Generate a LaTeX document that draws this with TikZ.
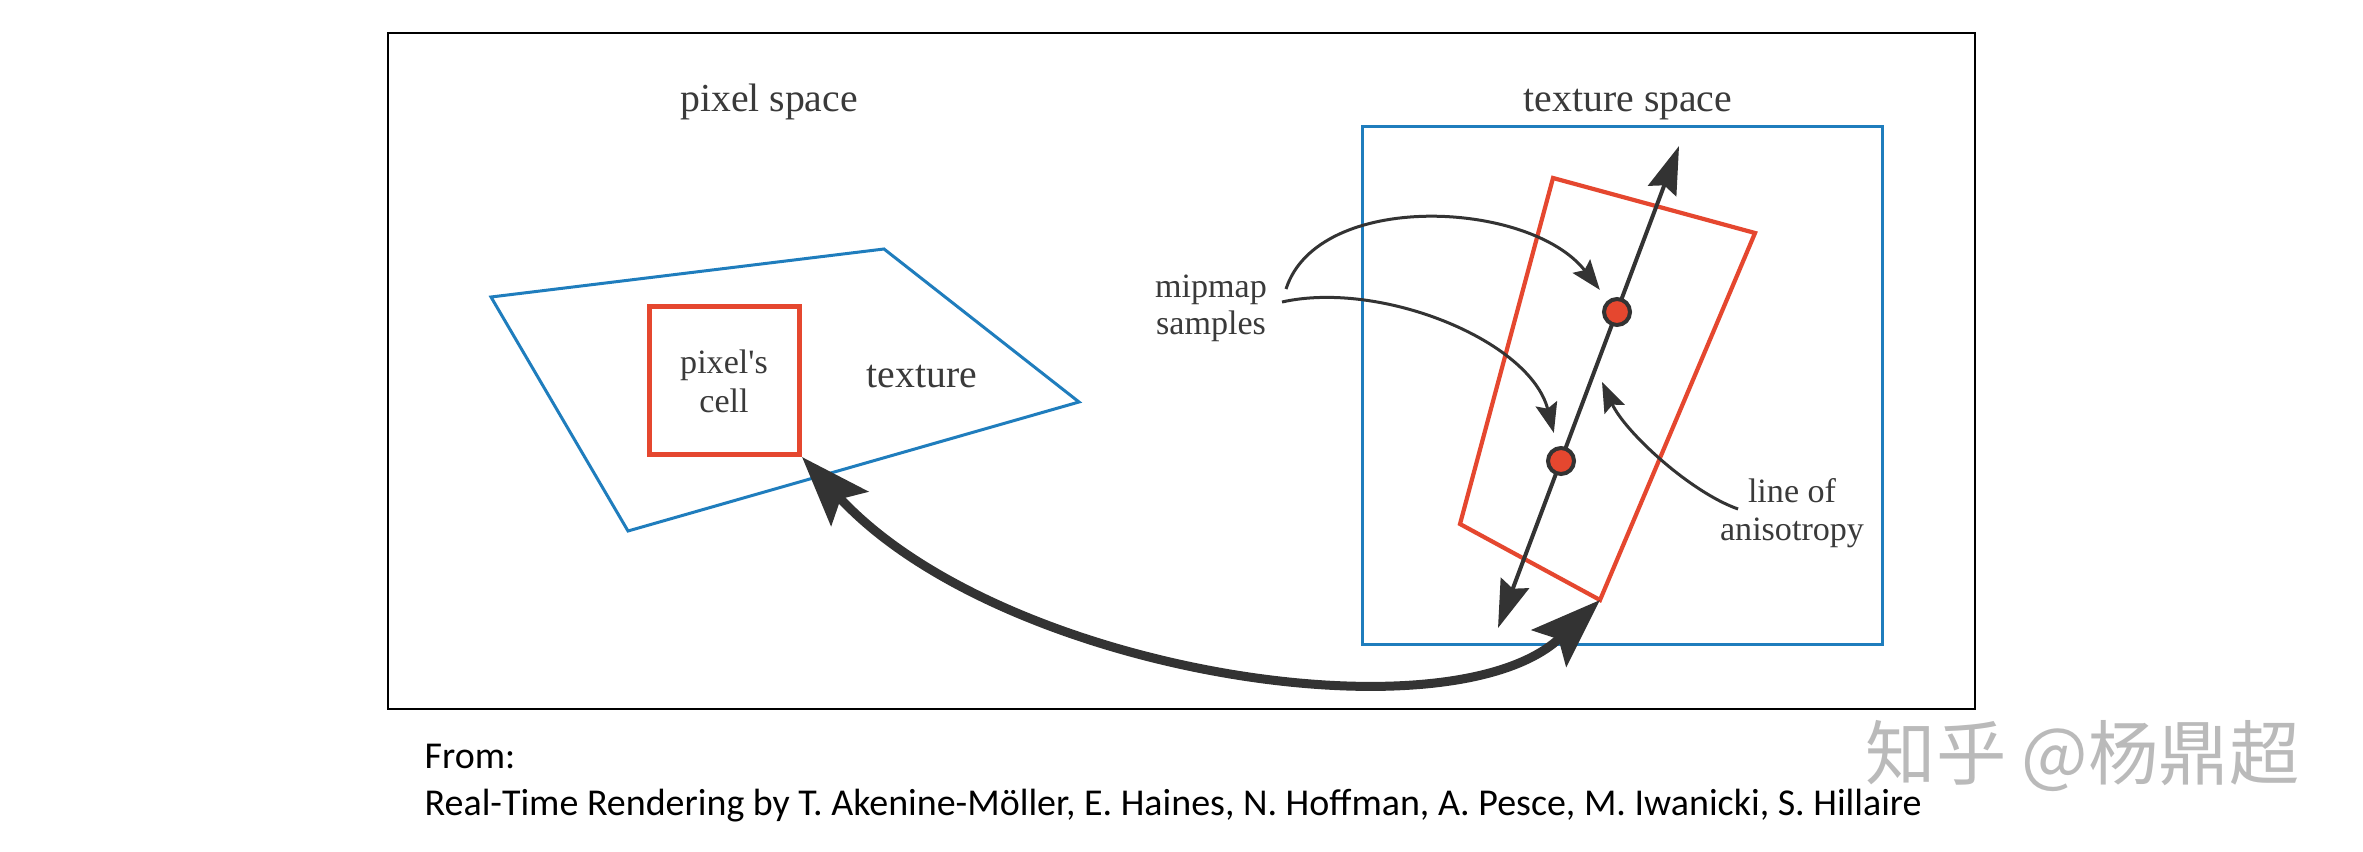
\documentclass[tikz,border=0pt]{standalone}
\usepackage{fontspec}
\setmainfont{Liberation Serif}
\newfontfamily\footfont{Carlito}
\newfontfamily\cjkfont{Noto Sans CJK SC}
\usetikzlibrary{arrows.meta}
\definecolor{myblue}{HTML}{1F7DBD}
\definecolor{myred}{HTML}{E5472F}
\definecolor{dark}{HTML}{333333}
\definecolor{txt}{HTML}{3A3A3A}
\begin{document}
\begin{tikzpicture}[x=0.1mm,y=-0.1mm,
  lbl/.style={font=\fontsize{9.7}{11}\selectfont, text=txt, inner sep=0, anchor=base},
  ttl/.style={font=\fontsize{11.3}{13}\selectfont, text=txt, inner sep=0, anchor=base},
  foot/.style={font=\footfont\fontsize{10.8}{12}\selectfont, text=black, inner sep=0, anchor=base west},
  blueline/.style={draw=myblue, line width=0.3mm, line join=miter},
  redline/.style={draw=myred, line width=0.42mm, line join=miter},
  pointer/.style={draw=dark, line width=0.3mm, -{Stealth[length=3mm,width=2.2mm,inset=0.5mm]}},
  aniso/.style={draw=dark, line width=0.4mm, {Stealth[length=4.8mm,width=3mm,inset=0.6mm]}-{Stealth[length=4.8mm,width=3mm,inset=0.6mm]}},
  big/.style={draw=dark, line width=0.9mm, {Stealth[length=7mm,width=5mm,inset=1.3mm]}-{Stealth[length=7mm,width=5mm,inset=1.3mm]}},
  dot/.style={circle, fill=myred, draw=dark, line width=0.4mm, minimum size=2.6mm, inner sep=0}
]
\useasboundingbox[fill=white] (0,0) rectangle (2363,851);
% frame
\draw[line width=0.2mm] (388,33) rectangle (1975,709);
% titles
\node[ttl] (ps) at (769,111.5) {pixel space};
\node[ttl] (ts) at (1628,111.5) {texture space};
% pixel-space quad
\coordinate (q1) at (491,297);
\coordinate (q2) at (884,249);
\coordinate (q3) at (1079,402);
\coordinate (q4) at (628,531);
\draw[blueline] (q1) -- (q2) -- (q3) -- (q4) -- cycle;
% pixel's cell
\node[draw=myred, line width=0.5mm, minimum width=15mm, minimum height=14.8mm, inner sep=0] (cell) at (724.5,380.5) {};
\node[lbl] (pc1) at (724,373) {pixel\textquotesingle s};
\node[lbl] (pc2) at (724,412) {cell};
\node[ttl] (tx) at (922,387) {texture};
% texture space box
\node[blueline, minimum width=52mm, minimum height=51.8mm, inner sep=0] (tsbox) at (1622,385) {};
% footprint
\coordinate (r1) at (1553,178);
\coordinate (r2) at (1755,233);
\coordinate (r3) at (1600,600);
\coordinate (r4) at (1460,524);
\draw[redline] (r1) -- (r2) -- (r3) -- (r4) -- cycle;
% line of anisotropy
\coordinate (lb) at (1498,628);
\coordinate (lt) at (1679,146);
\draw[aniso] (lb) -- (lt);
\node[dot] (s1) at (1617,312) {};
\node[dot] (s2) at (1561,461) {};
% labels right
\node[lbl] (mip) at (1211,297) {mipmap};
\node[lbl] (smp) at (1211,334) {samples};
\node[lbl] (lo1) at (1792,502) {line of};
\node[lbl] (lo2) at (1792,540) {anisotropy};
% pointers
\coordinate (a1) at (1286,289);
\coordinate (a2) at (1282,302);
\coordinate (a3) at (1738,509);
\coordinate (a3e) at (1602,382);
\draw[pointer, shorten >=2.8mm] (a1) .. controls (1318,190) and (1530,200) .. (s1.center);
\draw[pointer, shorten >=2.9mm] (a2) .. controls (1380,280) and (1530,340) .. (s2.center);
\draw[pointer] (a3) .. controls (1690,492) and (1625,432) .. (a3e);
% big double arrow
\draw[big] (cell.south east) .. controls (1000,672) and (1450,742) .. (r3);
% footer
\node[foot] (from) at (424,768) {From:};
\node[foot] (ref) at (424,815) {Real-Time Rendering by T. Akenine-Möller, E. Haines, N. Hoffman, A. Pesce, M. Iwanicki, S. Hillaire};
\node[anchor=west, font=\cjkfont\fontsize{20}{24}\selectfont, text=black!27, inner sep=0] (wm) at (1865,756) {知乎 @杨鼎超};
\end{tikzpicture}
\end{document}
